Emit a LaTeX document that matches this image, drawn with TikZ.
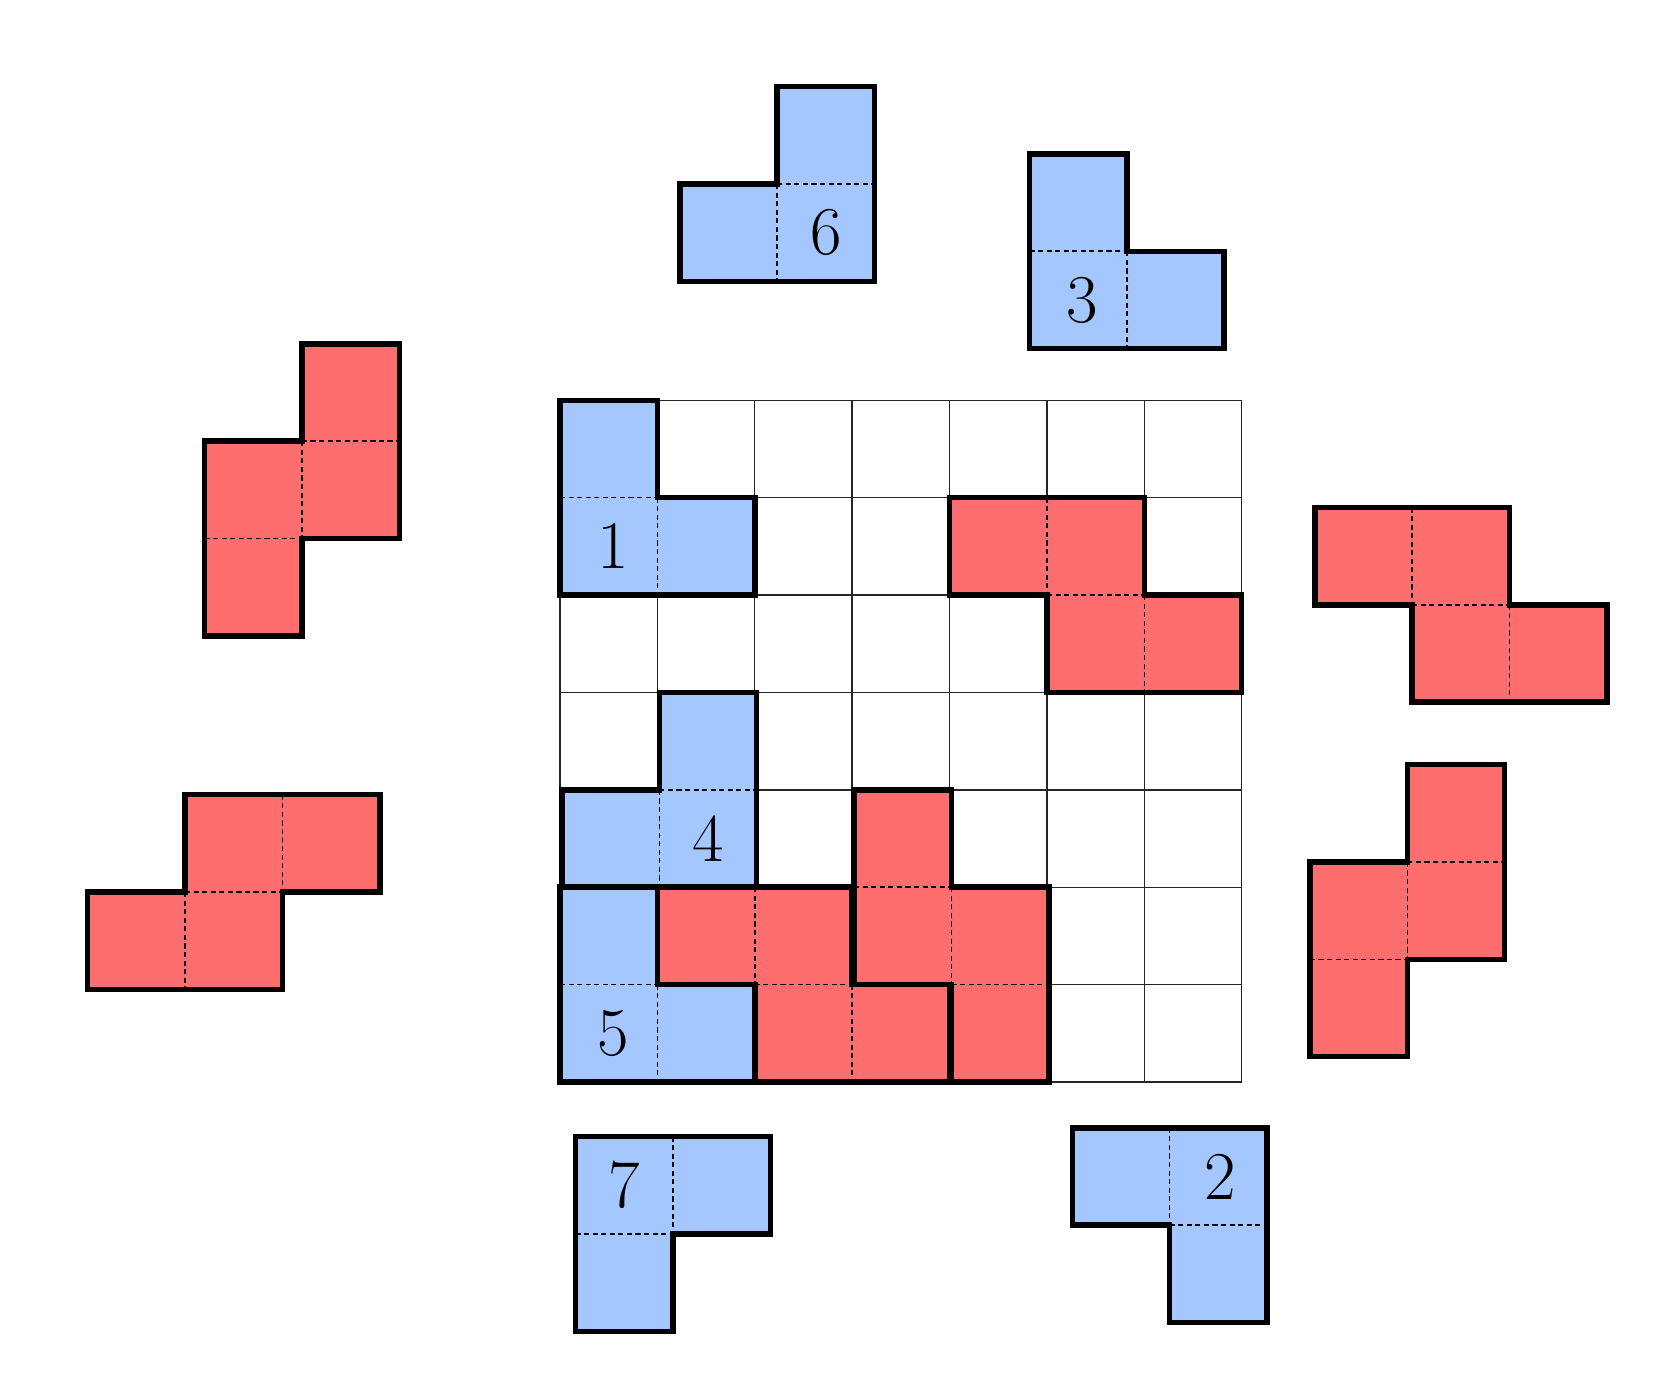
\documentclass[tikz,border=0pt]{standalone}
\definecolor{pblue}{RGB}{164,199,255}
\definecolor{pred}{RGB}{255,110,110}
\tikzset{
  gridline/.style={line width=0.4pt, black!85},
  pout/.style={line width=1.6pt, line join=miter, line cap=butt},
  bluep/.style={fill=pblue},
  redp/.style={fill=pred},
  inner/.style={line width=0.45pt, dash pattern=on 1.5pt off 1pt},
  num/.style={font=\fontsize{20pt}{24pt}\selectfont, inner sep=0pt}
}
\begin{document}
\begin{tikzpicture}[x=1cm,y=-1cm]
\useasboundingbox (-5.75,-4.11) rectangle (11.50,10.07);
% board
\draw[gridline] (0,0) grid (7,7);
% piece 1
\fill[bluep] (0,0)--(1,0)--(1,1)--(2,1)--(2,2)--(0,2)--cycle;
\draw[inner] (0,1)--(1,1) (1,1)--(1,2);
\draw[pout] (0,0)--(1,0)--(1,1)--(2,1)--(2,2)--(0,2)--cycle;
\node[num] (n1) at (0.55,1.5) {1};
% red piece top right of board
\fill[redp] (4,1)--(6,1)--(6,2)--(7,2)--(7,3)--(5,3)--(5,2)--(4,2)--cycle;
\draw[inner] (5,1)--(5,2) (5,2)--(6,2) (6,2)--(6,3);
\draw[pout] (4,1)--(6,1)--(6,2)--(7,2)--(7,3)--(5,3)--(5,2)--(4,2)--cycle;
% piece 4
\begin{scope}[shift={(0.02,0)}]
\fill[bluep] (1,3)--(2,3)--(2,5)--(0,5)--(0,4)--(1,4)--cycle;
\draw[inner] (1,4)--(2,4) (1,4)--(1,5);
\draw[pout] (1,3)--(2,3)--(2,5)--(0,5)--(0,4)--(1,4)--cycle;
\node[num] (n4) at (1.5,4.5) {4};
\end{scope}
% piece 5
\fill[bluep] (0,5)--(1,5)--(1,6)--(2,6)--(2,7)--(0,7)--cycle;
\draw[inner] (0,6)--(1,6) (1,6)--(1,7);
\draw[pout] (0,5)--(1,5)--(1,6)--(2,6)--(2,7)--(0,7)--cycle;
\node[num] (n5) at (0.55,6.5) {5};
% red piece A
\fill[redp] (1,5)--(3,5)--(3,6)--(4,6)--(4,7)--(2,7)--(2,6)--(1,6)--cycle;
\draw[inner] (2,5)--(2,6) (2,6)--(3,6) (3,6)--(3,7);
\draw[pout] (1,5)--(3,5)--(3,6)--(4,6)--(4,7)--(2,7)--(2,6)--(1,6)--cycle;
% red piece B
\begin{scope}[shift={(0.02,0)}]
\fill[redp] (3,4)--(4,4)--(4,5)--(5,5)--(5,7)--(4,7)--(4,6)--(3,6)--cycle;
\draw[inner] (3,5)--(4,5) (4,5)--(4,6) (4,6)--(5,6);
\draw[pout] (3,4)--(4,4)--(4,5)--(5,5)--(5,7)--(4,7)--(4,6)--(3,6)--cycle;
\end{scope}
% piece 6
\begin{scope}[shift={(1.23,-3.22)}]
\fill[bluep] (1,0)--(2,0)--(2,2)--(0,2)--(0,1)--(1,1)--cycle;
\draw[inner] (1,1)--(2,1) (1,1)--(1,2);
\draw[pout] (1,0)--(2,0)--(2,2)--(0,2)--(0,1)--(1,1)--cycle;
\node[num] (n6) at (1.5,1.5) {6};
\end{scope}
% piece 3
\begin{scope}[shift={(4.82,-2.53)}]
\fill[bluep] (0,0)--(1,0)--(1,1)--(2,1)--(2,2)--(0,2)--cycle;
\draw[inner] (0,1)--(1,1) (1,1)--(1,2);
\draw[pout] (0,0)--(1,0)--(1,1)--(2,1)--(2,2)--(0,2)--cycle;
\node[num] (n3) at (0.54,1.5) {3};
\end{scope}
% left top red
\begin{scope}[shift={(-3.65,-0.58)}]
\fill[redp] (1,0)--(2,0)--(2,2)--(1,2)--(1,3)--(0,3)--(0,1)--(1,1)--cycle;
\draw[inner] (1,1)--(2,1) (1,1)--(1,2) (0,2)--(1,2);
\draw[pout] (1,0)--(2,0)--(2,2)--(1,2)--(1,3)--(0,3)--(0,1)--(1,1)--cycle;
\end{scope}
% left bottom red
\begin{scope}[shift={(-4.85,4.05)}]
\fill[redp] (1,0)--(3,0)--(3,1)--(2,1)--(2,2)--(0,2)--(0,1)--(1,1)--cycle;
\draw[inner] (2,0)--(2,1) (1,1)--(2,1) (1,1)--(1,2);
\draw[pout] (1,0)--(3,0)--(3,1)--(2,1)--(2,2)--(0,2)--(0,1)--(1,1)--cycle;
\end{scope}
% right top red
\begin{scope}[shift={(7.75,1.10)}]
\fill[redp] (0,0)--(2,0)--(2,1)--(3,1)--(3,2)--(1,2)--(1,1)--(0,1)--cycle;
\draw[inner] (1,0)--(1,1) (1,1)--(2,1) (2,1)--(2,2);
\draw[pout] (0,0)--(2,0)--(2,1)--(3,1)--(3,2)--(1,2)--(1,1)--(0,1)--cycle;
\end{scope}
% right middle red
\begin{scope}[shift={(7.70,3.74)}]
\fill[redp] (1,0)--(2,0)--(2,2)--(1,2)--(1,3)--(0,3)--(0,1)--(1,1)--cycle;
\draw[inner] (1,1)--(2,1) (1,1)--(1,2) (0,2)--(1,2);
\draw[pout] (1,0)--(2,0)--(2,2)--(1,2)--(1,3)--(0,3)--(0,1)--(1,1)--cycle;
\end{scope}
% piece 7
\begin{scope}[shift={(0.16,7.56)}]
\fill[bluep] (0,0)--(2,0)--(2,1)--(1,1)--(1,2)--(0,2)--cycle;
\draw[inner] (1,0)--(1,1) (0,1)--(1,1);
\draw[pout] (0,0)--(2,0)--(2,1)--(1,1)--(1,2)--(0,2)--cycle;
\node[num] (n7) at (0.5,0.5) {7};
\end{scope}
% piece 2
\begin{scope}[shift={(5.26,7.47)}]
\fill[bluep] (0,0)--(2,0)--(2,2)--(1,2)--(1,1)--(0,1)--cycle;
\draw[inner] (1,0)--(1,1) (1,1)--(2,1);
\draw[pout] (0,0)--(2,0)--(2,2)--(1,2)--(1,1)--(0,1)--cycle;
\node[num] (n2) at (1.52,0.5) {2};
\end{scope}
\end{tikzpicture}
\end{document}
